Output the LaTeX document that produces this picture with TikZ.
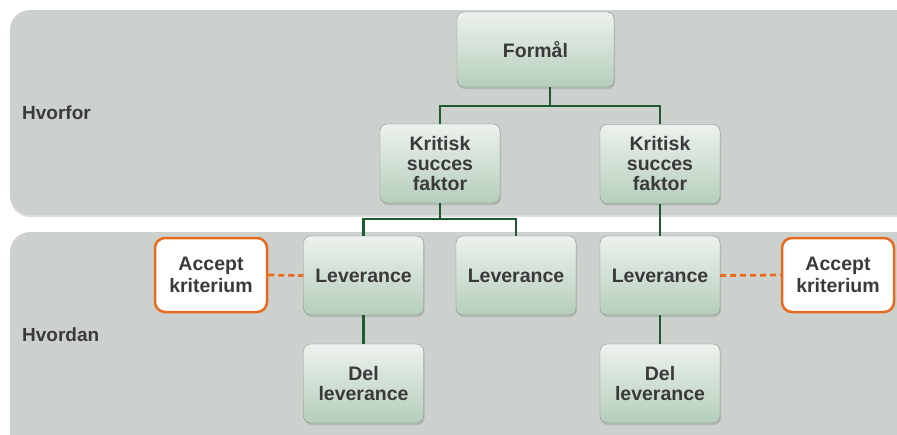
\documentclass[tikz,border=0pt]{standalone}
\usepackage{fontspec}
\setmainfont{Liberation Sans}
\usetikzlibrary{shadows}

\definecolor{bandgray}{HTML}{CDD1CD}
\definecolor{boxtop}{HTML}{EDF2EE}
\definecolor{boxbottom}{HTML}{B5CEBB}
\definecolor{boxline}{HTML}{858F86}
\definecolor{linkgreen}{HTML}{1D5A2E}
\definecolor{acceptorange}{HTML}{E86A1F}
\definecolor{textgray}{HTML}{3A3A3A}

\begin{document}
\begin{tikzpicture}[
    x=1pt, y=-1pt,
    band/.style={fill=bandgray, draw=none, rounded corners=20pt,
        drop shadow={shadow xshift=0pt, shadow yshift=-2pt, opacity=0.25}},
    box/.style={rectangle, draw=boxline, rounded corners=7pt,
        top color=boxtop, bottom color=boxbottom,
        minimum width=120pt, minimum height=79pt, align=center,
        font=\fontsize{19.5}{20}\selectfont\bfseries, text=textgray,
        drop shadow={shadow xshift=1pt, shadow yshift=-2pt, opacity=0.3}},
    accept/.style={rectangle, draw=acceptorange, line width=2.5pt, fill=white,
        rounded corners=10pt, minimum width=112pt, minimum height=74pt,
        align=center, font=\fontsize{19.5}{22}\selectfont\bfseries, text=textgray},
    side/.style={anchor=west, inner sep=0pt, font=\fontsize{19}{20}\selectfont\bfseries, text=textgray},
    link/.style={draw=linkgreen, line width=2.8pt},
    dashlink/.style={draw=acceptorange, line width=2.8pt, dash pattern=on 6pt off 4pt}
]
\useasboundingbox (0,0) rectangle (897,434);

% Bands
\path[band] (10,10) rectangle (920,215);
\path[band] (10,232) rectangle (920,460);
\node[side] (hvorfor) at (22,113) {Hvorfor};
\node[side] (hvordan) at (22,335) {Hvordan};

% Top level
\node[box, minimum width=157pt, minimum height=75pt] (formal) at (535.5,49.5) {Formål};

% Critical success factors
\node[box] (k1) at (440,163.5) {Kritisk\\succes\\faktor};
\node[box] (k2) at (660,164) {Kritisk\\succes\\faktor};

% Deliverables
\node[box] (l1) at (363.5,275.5) {Leverance};
\node[box] (l2) at (516,275.5) {Leverance};
\node[box] (l3) at (660,275.5) {Leverance};

% Sub deliverables
\node[box] (d1) at (363.5,383.5) {Del\\leverance};
\node[box] (d2) at (660,383.5) {Del\\leverance};

% Acceptance criteria
\node[accept] (a1) at (211,275) {Accept\\kriterium};
\node[accept] (a2) at (838,275) {Accept\\kriterium};

% Connections
\coordinate (j1) at (550,106);
\coordinate (j2) at (363.5,219);
\draw[link] (formal.south -| j1) -- (j1);
\draw[link] (k1.north) -- (k1.north |- j1) -- (k2.north |- j1) -- (k2.north);
\draw[link] (k1.south) -- (k1.south |- j2);
\draw[link] (l1.north) -- (j2) -- (j2 -| l2.north) -- (l2.north);
\draw[link] (k2.south) -- (l3.north);
\draw[link] (l1.south) -- (d1.north);
\draw[link] (l3.south) -- (d2.north);

\draw[dashlink] (a1.east) -- (l1.west);
\draw[dashlink] (l3.east) -- (a2.west);

\end{tikzpicture}
\end{document}
